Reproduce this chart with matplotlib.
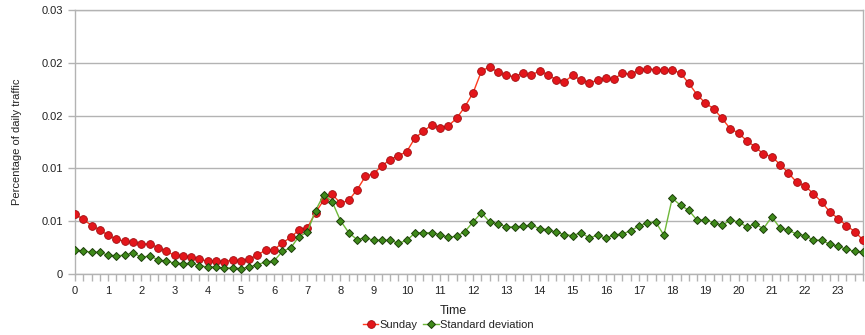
import matplotlib
matplotlib.use("Agg")
import matplotlib.pyplot as plt
import numpy as np
from matplotlib.ticker import FixedLocator, MultipleLocator

plt.rcParams['font.family'] = ['Liberation Sans', 'DejaVu Sans']

time = np.arange(96) * 0.25

sunday = [
    0.00679, 0.00622, 0.00550, 0.00500, 0.00440, 0.00394, 0.00372, 0.00360,
    0.00341, 0.00341, 0.00300, 0.00258, 0.00212, 0.00209, 0.00193, 0.00170,
    0.00144, 0.00152, 0.00140, 0.00160, 0.00152, 0.00167, 0.00216, 0.00273,
    0.00277, 0.00353, 0.00417, 0.00500, 0.00523, 0.00698, 0.00842, 0.00907,
    0.00804, 0.00838, 0.00956, 0.01108, 0.01142, 0.01229, 0.01301, 0.01343,
    0.01392, 0.01548, 0.01620, 0.01695, 0.01658, 0.01684, 0.01768, 0.01900,
    0.02060, 0.02306, 0.02355, 0.02291, 0.02257, 0.02242, 0.02283, 0.02257,
    0.02310, 0.02264, 0.02208, 0.02185, 0.02257, 0.02204, 0.02173, 0.02200,
    0.02227, 0.02215, 0.02283, 0.02268, 0.02318, 0.02333, 0.02321, 0.02318,
    0.02318, 0.02283, 0.02166, 0.02037, 0.01942, 0.01878, 0.01768, 0.01650,
    0.01601, 0.01513, 0.01445, 0.01362, 0.01335, 0.01244, 0.01149, 0.01043,
    0.01001, 0.00914, 0.00819, 0.00706, 0.00630, 0.00550, 0.00482, 0.00387,
]

std_dev = [
    0.00273, 0.00262, 0.00247, 0.00247, 0.00212, 0.00209, 0.00212, 0.00243,
    0.00190, 0.00205, 0.00163, 0.00144, 0.00125, 0.00118, 0.00120, 0.00095,
    0.00080, 0.00076, 0.00068, 0.00068, 0.00061, 0.00080, 0.00106, 0.00137,
    0.00148, 0.00258, 0.00296, 0.00425, 0.00474, 0.00721, 0.00903, 0.00823,
    0.00607, 0.00470, 0.00391, 0.00413, 0.00383, 0.00383, 0.00383, 0.00349,
    0.00383, 0.00467, 0.00470, 0.00467, 0.00448, 0.00417, 0.00429, 0.00482,
    0.00592, 0.00698, 0.00588, 0.00573, 0.00535, 0.00535, 0.00542, 0.00558,
    0.00516, 0.00504, 0.00474, 0.00448, 0.00436, 0.00470, 0.00410, 0.00440,
    0.00406, 0.00444, 0.00455, 0.00493, 0.00546, 0.00584, 0.00592, 0.00440,
    0.00861, 0.00781, 0.00724, 0.00611, 0.00614, 0.00584, 0.00554, 0.00611,
    0.00592, 0.00535, 0.00569, 0.00516, 0.00649, 0.00523, 0.00497, 0.00455,
    0.00436, 0.00387, 0.00383, 0.00338, 0.00315, 0.00281, 0.00258, 0.00250,
]

y_ticks = [0, 0.006, 0.012, 0.018, 0.024, 0.03]
y_tick_labels = ["0", "0.01", "0.01", "0.02", "0.02", "0.03"]
x_ticks = list(range(24))
x_tick_labels = [str(h) for h in x_ticks]

fig = plt.figure(figsize=(8.65, 3.35), dpi=100)
ax = fig.add_axes([75/865, 1 - 274/335, (863 - 75)/865, (274 - 10)/335])

ax.plot(time, sunday, color='#ff3b1f', lw=1.0, marker='o', markersize=5.6,
        markerfacecolor='#e3161b', markeredgecolor='#a00d10', markeredgewidth=0.6,
        label='Sunday', zorder=3)
ax.plot(time, std_dev, color='#6fb83a', lw=1.0, marker='D', markersize=3.9,
        markerfacecolor='#3f8a1a', markeredgecolor='#1c3d0a', markeredgewidth=0.7,
        label='Standard deviation', zorder=3)

ax.set_xlim(0, 23.75)
ax.set_ylim(0, 0.03)
ax.set_yticks(y_ticks)
ax.set_yticklabels(y_tick_labels)
ax.set_xticks(x_ticks)
ax.set_xticklabels(x_tick_labels)
ax.xaxis.set_minor_locator(MultipleLocator(0.25))

ax.grid(axis='y', color='#b3b3b3', lw=1.0, zorder=0)
for s in ax.spines.values():
    s.set_color('#b3b3b3')
    s.set_linewidth(1.0)
ax.tick_params(axis='both', which='both', direction='out', color='#b3b3b3',
               length=5, width=1.0, labelsize=8, labelcolor='#222222')
ax.tick_params(axis='x', which='major', pad=4)

fig.text(453/865, 1 - 311/335, 'Time', fontsize=9, color='#222222',
         ha='center', va='center')
ax.set_ylabel('Percentage of daily traffic', fontsize=8, color='#222222', labelpad=14)

leg = fig.legend(loc='center', bbox_to_anchor=(448/865, 1 - 325/335), ncol=2,
                 frameon=False, fontsize=8, handlelength=1.4, handletextpad=0.1,
                 columnspacing=0.5, borderaxespad=0, borderpad=0)
for t in leg.get_texts():
    t.set_color('#222222')

fig.savefig('out.png', dpi=100)
